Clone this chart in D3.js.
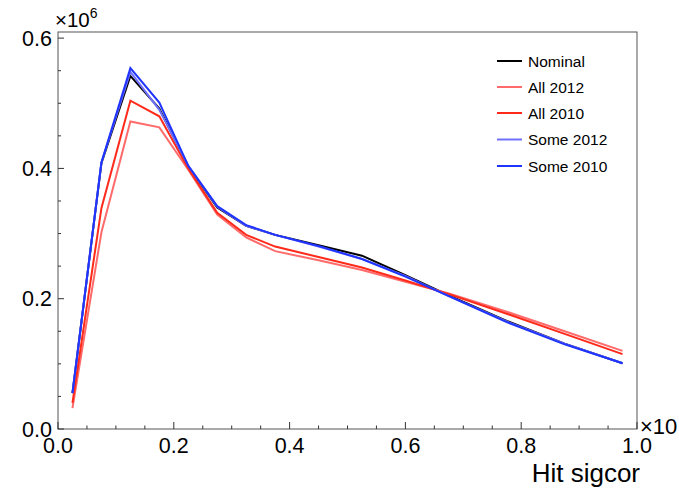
<!DOCTYPE html>
<html>
<head>
<meta charset="utf-8">
<script src="https://cdn.jsdelivr.net/npm/d3@7"></script>
<style>
  html, body { margin: 0; padding: 0; background: #fff; }
  svg { display: block; font-family: "Liberation Sans", Arial, Helvetica, sans-serif; }
</style>
</head>
<body>
<svg id="chart" width="679" height="490"></svg>
<script>
// Bin centres along "Hit sigcor"
const xCenters = [0.025, 0.075, 0.125, 0.175, 0.225, 0.275, 0.325, 0.375, 0.45, 0.525, 0.6, 0.675, 0.775, 0.875, 0.975];

// Entries per bin, in units of 10^6
const nominal  = [0.055, 0.408, 0.542, 0.492, 0.403, 0.340, 0.312, 0.298, 0.282, 0.266, 0.236, 0.205, 0.166, 0.131, 0.101];
const all2012  = [0.032, 0.302, 0.472, 0.463, 0.398, 0.329, 0.294, 0.273, 0.259, 0.244, 0.226, 0.208, 0.180, 0.150, 0.120];
const all2010  = [0.040, 0.339, 0.504, 0.480, 0.400, 0.332, 0.298, 0.280, 0.264, 0.248, 0.228, 0.207, 0.177, 0.146, 0.115];
const some2012 = [0.055, 0.409, 0.548, 0.490, 0.404, 0.341, 0.312, 0.298, 0.280, 0.261, 0.235, 0.204, 0.165, 0.131, 0.101];
const some2010 = [0.055, 0.409, 0.554, 0.501, 0.404, 0.342, 0.313, 0.298, 0.281, 0.261, 0.234, 0.204, 0.164, 0.130, 0.101];

const seriesNames  = ["Nominal", "All 2012", "All 2010", "Some 2012", "Some 2010"];
const seriesValues = [nominal, all2012, all2010, some2012, some2010];
const seriesColors = ["#000000", "#ff6a6a", "#ff2a1a", "#7070ff", "#1f35ff"];

const xTickLabels = [0.0, 0.2, 0.4, 0.6, 0.8, 1.0];
const yTickLabels = [0.0, 0.2, 0.4, 0.6];

const svg = d3.select("#chart");
const frame = { left: 58, right: 637, top: 32, bottom: 429 };

const x = d3.scaleLinear().domain([0, 1]).range([frame.left, frame.right]);
const y = d3.scaleLinear().domain([0, 0.6094]).range([frame.bottom, frame.top]);

// Frame
svg.append("rect")
  .attr("x", frame.left).attr("y", frame.top)
  .attr("width", frame.right - frame.left).attr("height", frame.bottom - frame.top)
  .attr("fill", "none").attr("stroke", "#555").attr("stroke-width", 1);

// Ticks (drawn inward, ROOT style)
const xMinor = d3.range(0, 1.0001, 0.05);
svg.append("g").selectAll("line").data(xMinor).join("line")
  .attr("x1", d => x(d)).attr("x2", d => x(d))
  .attr("y1", frame.bottom)
  .attr("y2", (d, i) => frame.bottom - (i % 4 === 0 ? 7 : 3.5))
  .attr("stroke", "#333").attr("stroke-width", 1);

const yMinor = d3.range(0, 0.6001, 0.05);
svg.append("g").selectAll("line").data(yMinor).join("line")
  .attr("y1", d => y(d)).attr("y2", d => y(d))
  .attr("x1", frame.left)
  .attr("x2", (d, i) => frame.left + (i % 4 === 0 ? 6 : 3))
  .attr("stroke", "#333").attr("stroke-width", 1);

// Tick labels
svg.append("g").selectAll("text").data(xTickLabels).join("text")
  .attr("x", d => x(d)).attr("y", 453)
  .attr("text-anchor", "middle")
  .attr("font-size", 21.5)
  .text(d => d.toFixed(1));

svg.append("g").selectAll("text").data(yTickLabels).join("text")
  .attr("x", 52).attr("y", d => y(d) + 7.5)
  .attr("text-anchor", "end")
  .attr("font-size", 21.5)
  .text(d => d.toFixed(1));

// Exponent labels
const expY = svg.append("text").attr("x", 55).attr("y", 27).attr("font-size", 20.5);
expY.append("tspan").text("\u00d710");
expY.append("tspan").attr("dy", -9).attr("font-size", 14).text("6");

const expX = svg.append("text").attr("x", 640).attr("y", 434).attr("font-size", 22);
expX.append("tspan").text("\u00d710");

// Axis title
svg.append("text")
  .attr("x", frame.right + 3).attr("y", 482)
  .attr("text-anchor", "end")
  .attr("font-size", 26)
  .text("Hit sigcor");

// Series lines
const line = d3.line()
  .x((d, i) => x(xCenters[i]))
  .y(d => y(d));

svg.append("clipPath").attr("id", "frameClip")
  .append("rect")
  .attr("x", frame.left).attr("y", frame.top)
  .attr("width", frame.right - frame.left).attr("height", frame.bottom - frame.top);

svg.append("g").attr("clip-path", "url(#frameClip)")
  .selectAll("path").data(seriesValues).join("path")
  .attr("d", d => line(d))
  .attr("fill", "none")
  .attr("stroke", (d, i) => seriesColors[i])
  .attr("stroke-width", 2)
  .attr("stroke-linejoin", "miter");

// Legend
const legend = svg.append("g");
const legendRowY = [61, 87, 113, 139.5, 166];
seriesNames.forEach((name, i) => {
  legend.append("line")
    .attr("x1", 497).attr("x2", 522)
    .attr("y1", legendRowY[i]).attr("y2", legendRowY[i])
    .attr("stroke", seriesColors[i]).attr("stroke-width", 2);
  legend.append("text")
    .attr("x", 528).attr("y", legendRowY[i] + 5.5)
    .attr("font-size", 15.5)
    .text(name);
});
</script>
</body>
</html>
